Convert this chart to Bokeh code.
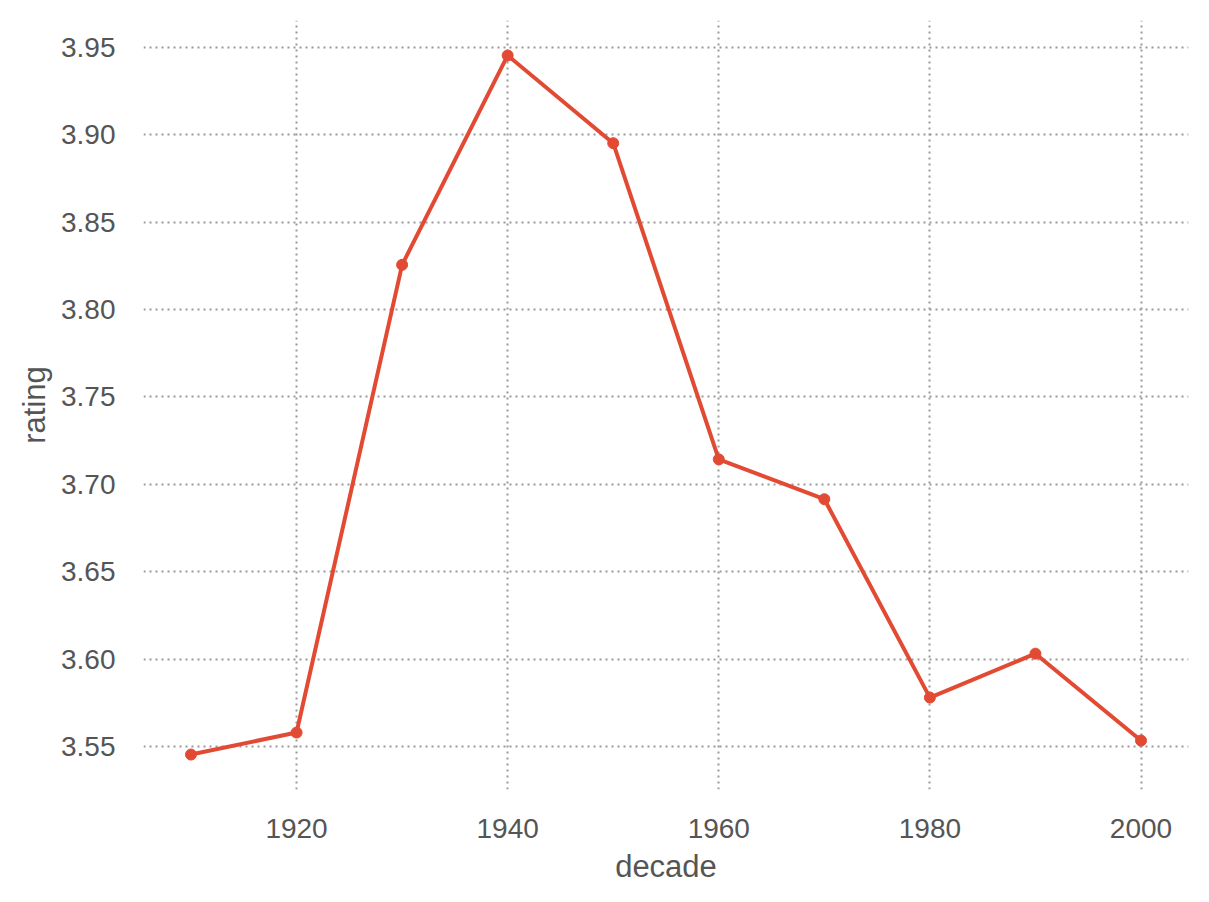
from bokeh.plotting import figure
from bokeh.models import ColumnDataSource, Range1d, FixedTicker, CustomJSTickFormatter
from bokeh.embed import file_html
from bokeh.resources import INLINE

decades = [1910, 1920, 1930, 1940, 1950, 1960, 1970, 1980, 1990, 2000]
ratings = [3.5454, 3.5580, 3.8256, 3.9454, 3.8952, 3.7143, 3.6915, 3.5780, 3.6031, 3.5534]
x_ticks = [1920, 1940, 1960, 1980, 2000]
y_ticks = [3.55, 3.60, 3.65, 3.70, 3.75, 3.80, 3.85, 3.90, 3.95]

src = ColumnDataSource(dict(x=decades, y=ratings))

p = figure(width=1193, height=886, output_backend="svg", toolbar_location=None,
           x_range=Range1d(1905.5, 2004.5), y_range=Range1d(3.5254, 3.9654),
           min_border_left=143, min_border_right=5, min_border_top=20, min_border_bottom=97)
p.outline_line_color = None
p.background_fill_color = "white"
p.border_fill_color = "white"

p.line("x", "y", source=src, line_color="#E24A33", line_width=4)
p.scatter("x", "y", source=src, size=11, fill_color="#E24A33", line_color="#E24A33")

FONT = "Liberation Sans"
for ax in (p.xaxis[0], p.yaxis[0]):
    ax.axis_line_color = None
    ax.major_tick_line_color = None
    ax.minor_tick_line_color = None
    ax.major_tick_out = 0
    ax.major_tick_in = 0
    ax.major_label_text_font = FONT
    ax.major_label_text_font_size = "28px"
    ax.major_label_text_color = "#555555"
    ax.axis_label_text_font = FONT
    ax.axis_label_text_font_size = "31px"
    ax.axis_label_text_font_style = "normal"
    ax.axis_label_text_color = "#555555"

p.xaxis.ticker = FixedTicker(ticks=x_ticks)
p.yaxis.ticker = FixedTicker(ticks=y_ticks)
p.yaxis.formatter = CustomJSTickFormatter(code="return tick.toFixed(2);")
p.xaxis.axis_label = "decade"
p.yaxis.axis_label = "rating"
p.xaxis.major_label_standoff = 29
p.yaxis.major_label_standoff = 28
p.xaxis.axis_label_standoff = 8
p.yaxis.axis_label_standoff = 6

for g in (p.xgrid[0], p.ygrid[0]):
    g.grid_line_color = "#999999"
    g.grid_line_width = 2
    g.grid_line_dash = "2 4"

open("out.html", "w").write(file_html(p, INLINE))
